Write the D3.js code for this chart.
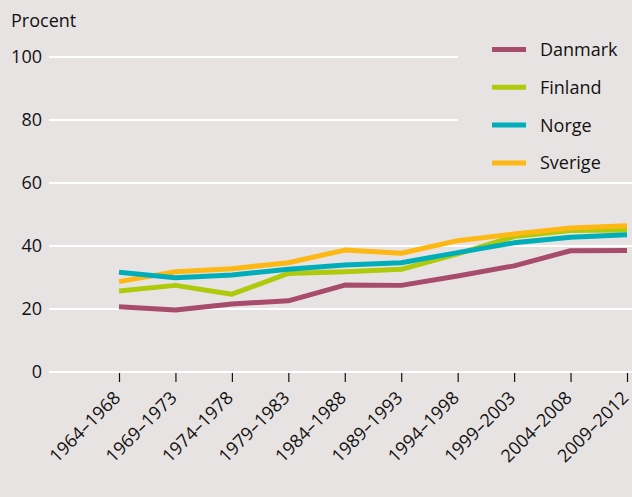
<!DOCTYPE html>
<html>
<head>
<meta charset="utf-8">
<script src="https://cdn.jsdelivr.net/npm/d3@7"></script>
<style>
  body { margin: 0; background: #e8e3e3; }
  text { font-family: "Open Sans", sans-serif; fill: #111111; }
</style>
</head>
<body>
<script>
// data
let periods = ["1964–1968", "1969–1973", "1974–1978", "1979–1983", "1984–1988",
               "1989–1993", "1994–1998", "1999–2003", "2004–2008", "2009–2012"]
let danmark = [20.7, 19.7, 21.6, 22.6, 27.6, 27.5, 30.5, 33.7, 38.5, 38.6]
let finland = [25.7, 27.5, 24.7, 31.3, 31.8, 32.6, 37.5, 43.0, 44.9, 45.1]
let norge   = [31.7, 29.9, 30.8, 32.6, 34.0, 34.7, 37.9, 41.0, 42.8, 43.6]
let sverige = [28.7, 31.8, 32.8, 34.7, 38.7, 37.7, 41.7, 43.8, 45.7, 46.4]
let yTicks = [0, 20, 40, 60, 80, 100]

// drawing order: Norge sits on top
let series = [
  {name: "Danmark", values: danmark, color: "#a84c6e"},
  {name: "Finland", values: finland, color: "#afca0b"},
  {name: "Sverige", values: sverige, color: "#fdb813"},
  {name: "Norge",   values: norge,   color: "#00aeba"}
]
let legendOrder = ["Danmark", "Finland", "Norge", "Sverige"]

let width = 632, height = 497
let fontSize = "18px"

let svg = d3.select("body").append("svg")
    .attr("width", width)
    .attr("height", height)

svg.append("rect").attr("width", width).attr("height", height).attr("fill", "#e8e3e3")

let x = d3.scalePoint()
    .domain(periods)
    .range([119, 627])

let y = d3.scaleLinear()
    .domain([0, 100])
    .range([372, 57])

// gridlines (top two stop before the legend)
svg.append("g").selectAll("line")
  .data(yTicks)
  .enter().append("line")
    .attr("x1", 49)
    .attr("x2", d => d >= 80 ? 458 : width)
    .attr("y1", d => y(d))
    .attr("y2", d => y(d))
    .attr("stroke", "#ffffff")
    .attr("stroke-width", 2)

// y labels
svg.append("g").selectAll("text")
  .data(yTicks)
  .enter().append("text")
    .attr("x", 42)
    .attr("y", d => y(d))
    .attr("dy", "0.36em")
    .attr("text-anchor", "end")
    .style("font-size", fontSize)
    .text(d => d)

svg.append("text")
    .attr("x", 11)
    .attr("y", 27)
    .style("font-size", fontSize)
    .text("Procent")

// x axis
let xAxis = svg.append("g")
    .attr("transform", "translate(0," + (y(0) + 1) + ")")
    .call(d3.axisBottom(x).tickSize(9).tickSizeOuter(0))

xAxis.select(".domain").remove()
xAxis.selectAll(".tick line").attr("stroke", "#111111").attr("stroke-width", 1.2)
xAxis.selectAll(".tick text")
    .style("font-size", fontSize)
    .style("font-family", "'Open Sans', sans-serif")
    .attr("fill", "#111111")
    .attr("text-anchor", "end")
    .attr("dy", null)
    .attr("y", 0)
    .attr("transform", "translate(2,26) rotate(-45)")

// lines
let line = d3.line()
    .x((d, i) => x(periods[i]))
    .y(d => y(d))

svg.append("g").selectAll("path")
  .data(series)
  .enter().append("path")
    .attr("d", d => line(d.values))
    .attr("fill", "none")
    .attr("stroke", d => d.color)
    .attr("stroke-width", 5)
    .attr("stroke-linejoin", "round")

// legend
let colorOf = {}
series.forEach(s => { colorOf[s.name] = s.color })

let legend = svg.append("g").selectAll("g")
  .data(legendOrder)
  .enter().append("g")
    .attr("transform", (d, i) => "translate(492," + (49.5 + i * 37.8) + ")")

legend.append("line")
    .attr("x1", 0).attr("x2", 34)
    .attr("stroke", d => colorOf[d])
    .attr("stroke-width", 5)

legend.append("text")
    .attr("x", 48)
    .attr("dy", "0.36em")
    .style("font-size", fontSize)
    .text(d => d)
</script>
</body>
</html>
